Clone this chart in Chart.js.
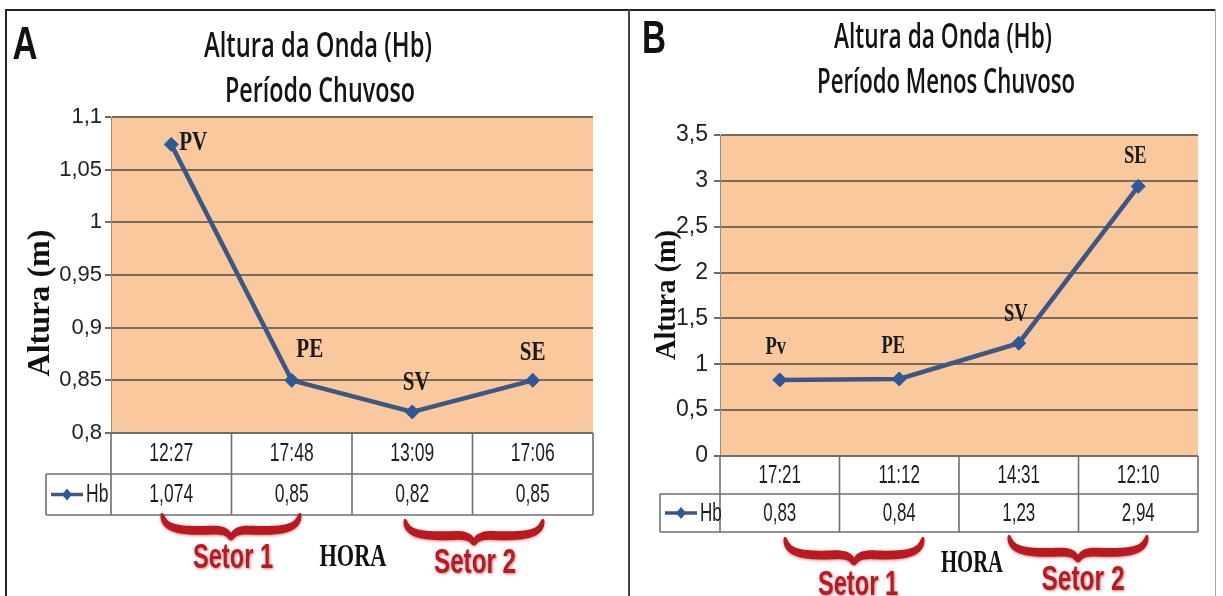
<!DOCTYPE html>
<html>
<head>
<meta charset="utf-8">
<script src="https://cdn.jsdelivr.net/npm/chart.js@4.4.1/dist/chart.umd.min.js"></script>
<style>
body{margin:0;background:#fff;width:1223px;height:596px;overflow:hidden;position:relative;}
canvas{position:absolute;top:0;}
#cA{left:0}
#cB{left:629px}
.ln{position:absolute;background:#222;}
</style>
</head>
<body>
<canvas id="cA" width="629" height="596"></canvas>
<canvas id="cB" width="594" height="596"></canvas>
<div class="ln" style="left:5px;top:9px;width:1211px;height:2px"></div>
<div class="ln" style="left:5px;top:9px;width:2px;height:590px"></div>
<div class="ln" style="left:628px;top:9px;width:2px;height:590px;background:#444"></div>
<div class="ln" style="left:1215px;top:9px;width:1px;height:590px;background:#aaa"></div>
<script>
'use strict';

// painel A - periodo chuvoso
const horasA = ['12:27', '17:48', '13:09', '17:06'];
const hbA = [1.074, 0.85, 0.82, 0.85];
const pontosA = ['PV', 'PE', 'SV', 'SE'];
const ticksA = [0.8, 0.85, 0.9, 0.95, 1, 1.05, 1.1];

// painel B - periodo menos chuvoso
const horasB = ['17:21', '11:12', '14:31', '12:10'];
const hbB = [0.83, 0.84, 1.23, 2.94];
const pontosB = ['Pv', 'PE', 'SV', 'SE'];
const ticksB = [0, 0.5, 1, 1.5, 2, 2.5, 3, 3.5];

const LINE = '#3d5784';
const MARK = '#2c5a98';
const RED = '#bb1820';

const fmt = v => String(v).replace('.', ',');

function txt(ctx, s, x, y, font, color, sx, align) {
    ctx.save();
    ctx.font = font;
    ctx.fillStyle = color;
    ctx.textBaseline = 'middle';
    ctx.textAlign = align || 'center';
    ctx.translate(x, y);
    ctx.scale(sx, 1);
    ctx.fillText(s, 0, 0);
    ctx.restore();
}

function fitTxt(ctx, s, x, y, font, color, w) {
    ctx.save();
    ctx.font = font;
    const sx = w / ctx.measureText(s).width;
    ctx.restore();
    txt(ctx, s, x, y, font, color, sx);
}

function cubic(p, t) {
    const u = 1 - t;
    return [
        u*u*u*p[0][0] + 3*u*u*t*p[1][0] + 3*u*t*t*p[2][0] + t*t*t*p[3][0],
        u*u*u*p[0][1] + 3*u*u*t*p[1][1] + 3*u*t*t*p[2][1] + t*t*t*p[3][1]
    ];
}

// meia chave: da ponta externa ate o bico central, espessura variavel
function halfBrace(ctx, x1, xm, y0, y1, thick) {
    const w = xm - x1, h = y1 - y0;
    const segs = [
        [[x1, y0], [x1 + w*0.02, y0 + h*0.5], [x1 + w*0.15, y0 + h*0.68], [xm - w*0.32, y0 + h*0.64]],
        [[xm - w*0.32, y0 + h*0.64], [xm - w*0.1, y0 + h*0.6], [xm - w*0.03, y0 + h*0.72], [xm, y1]]
    ];
    const pts = [];
    segs.forEach((s, k) => {
        for (let i = (k ? 1 : 0); i <= 24; i++) pts.push(cubic(s, i / 24));
    });
    const n = pts.length - 1;
    const up = [], dn = [];
    pts.forEach((p, i) => {
        const a = pts[Math.max(i - 1, 0)], b = pts[Math.min(i + 1, n)];
        const dx = b[0] - a[0], dy = b[1] - a[1];
        const L = Math.hypot(dx, dy) || 1;
        const nx = -dy / L, ny = dx / L;
        const th = thick * Math.pow(Math.sin(Math.PI * i / n), 0.5) / 2 + 0.7;
        up.push([p[0] + nx*th, p[1] + ny*th]);
        dn.push([p[0] - nx*th, p[1] - ny*th]);
    });
    ctx.beginPath();
    up.forEach((p, i) => i ? ctx.lineTo(p[0], p[1]) : ctx.moveTo(p[0], p[1]));
    dn.reverse().forEach(p => ctx.lineTo(p[0], p[1]));
    ctx.closePath();
    ctx.fill();
}

function brace(ctx, x1, x2, y0, y1) {
    const xm = (x1 + x2) / 2;
    ctx.save();
    ctx.fillStyle = RED;
    ctx.shadowColor = 'rgba(140,0,0,0.45)';
    ctx.shadowBlur = 3;
    ctx.shadowOffsetY = 1;
    halfBrace(ctx, x1, xm, y0, y1, 7.5);
    halfBrace(ctx, x2, xm, y0, y1, 7.5);
    ctx.restore();
}

function panelPlugin(cfg) {
    return {
        id: 'panel',
        beforeDraw(chart) {
            const a = chart.chartArea, ctx = chart.ctx;
            ctx.save();
            ctx.fillStyle = '#f9c89d';
            ctx.fillRect(a.left, a.top, a.right - a.left, a.bottom - a.top);
            ctx.restore();
        },
        afterDatasetsDraw(chart) {
            const ctx = chart.ctx;
            const meta = chart.getDatasetMeta(0);
            meta.data.forEach((pt, i) => {
                const o = cfg.labelOff[i];
                txt(ctx, cfg.pontos[i], pt.x + o[0], pt.y + o[1],
                    'bold ' + cfg.labelSize + 'px "Liberation Serif", serif', '#1a1a1a', cfg.labelSx, o[2]);
            });
        },
        afterDraw(chart) {
            const ctx = chart.ctx, a = chart.chartArea, xs = chart.scales.x;
            const n = cfg.horas.length;
            const step = (a.right - a.left) / n;
            const tFont = '25px "Liberation Sans", sans-serif';

            // tabela de dados
            ctx.save();
            ctx.fillStyle = '#fff';
            ctx.fillRect(a.left, a.bottom + 1, a.right - a.left, cfg.row2 - a.bottom - 1);
            ctx.fillRect(cfg.legX, cfg.row1, a.left - cfg.legX, cfg.row2 - cfg.row1);
            ctx.strokeStyle = '#707070';
            ctx.lineWidth = 1.6;
            ctx.beginPath();
            ctx.moveTo(a.left, a.bottom); ctx.lineTo(a.right, a.bottom);
            ctx.moveTo(cfg.legX, cfg.row1); ctx.lineTo(a.right, cfg.row1);
            ctx.moveTo(cfg.legX, cfg.row2); ctx.lineTo(a.right, cfg.row2);
            ctx.moveTo(cfg.legX, cfg.row1); ctx.lineTo(cfg.legX, cfg.row2);
            for (let i = 0; i <= n; i++) {
                const x = i < n ? xs.getPixelForValue(i) - step / 2 : xs.getPixelForValue(n - 1) + step / 2;
                ctx.moveTo(x, a.bottom); ctx.lineTo(x, cfg.row2);
            }
            ctx.stroke();
            ctx.restore();

            const y1 = (a.bottom + cfg.row1) / 2, y2 = (cfg.row1 + cfg.row2) / 2;
            cfg.horas.forEach((h, i) => {
                const x = xs.getPixelForValue(i);
                txt(ctx, h, x, y1 + 1, tFont, '#1e1e1e', cfg.tableSx);
                txt(ctx, fmt(cfg.valores[i]), x, y2 + 1, tFont, '#1e1e1e', cfg.tableSx);
            });

            // legenda dentro da tabela
            const lx0 = cfg.legX + 5, lx1 = cfg.legX + 37, lm = (lx0 + lx1) / 2;
            ctx.save();
            ctx.strokeStyle = LINE;
            ctx.lineWidth = 3.5;
            ctx.beginPath(); ctx.moveTo(lx0, y2); ctx.lineTo(lx1, y2); ctx.stroke();
            ctx.fillStyle = MARK;
            ctx.beginPath();
            ctx.moveTo(lm, y2 - 6); ctx.lineTo(lm + 5, y2); ctx.lineTo(lm, y2 + 6); ctx.lineTo(lm - 5, y2);
            ctx.closePath(); ctx.fill();
            ctx.restore();
            txt(ctx, 'Hb', lx1 + 3, y2 + 1, tFont, '#1e1e1e', cfg.tableSx, 'left');

            // titulos
            cfg.titles.forEach(t => fitTxt(ctx, t[0], t[1], t[2], '600 34px "Open Sans", "Liberation Sans", sans-serif', '#141414', t[3]));
            fitTxt(ctx, cfg.letter[0], cfg.letter[1], cfg.letter[2], 'bold 46px "Liberation Sans", sans-serif', '#111', cfg.letter[3]);

            // titulo do eixo y
            const yt = cfg.yTitle;
            ctx.save();
            ctx.font = 'bold ' + yt[3] + 'px "Liberation Serif", serif';
            const sw = ctx.measureText('Altura (m)').width;
            ctx.translate(yt[0], yt[1]);
            ctx.rotate(-Math.PI / 2);
            ctx.scale(yt[2] / sw, 1);
            ctx.fillStyle = '#111';
            ctx.textAlign = 'center';
            ctx.textBaseline = 'middle';
            ctx.fillText('Altura (m)', 0, 0);
            ctx.restore();

            // chaves dos setores
            cfg.braces.forEach(b => brace(ctx, b[0], b[1], b[2], b[3]));
            cfg.notes.forEach(t => {
                if (t[4]) {
                    fitTxt(ctx, t[0], t[1], t[2], 'bold 31px "Liberation Serif", serif', '#111', t[3]);
                } else {
                    ctx.save();
                    ctx.shadowColor = 'rgba(140,0,0,0.5)';
                    ctx.shadowBlur = 3;
                    ctx.shadowOffsetX = 1;
                    ctx.shadowOffsetY = 1;
                    fitTxt(ctx, t[0], t[1], t[2], 'bold 35px "Liberation Sans Narrow", "Liberation Sans", sans-serif', RED, t[3]);
                    ctx.restore();
                }
            });
        }
    };
}

function makeChart(id, cfg) {
    const c = document.getElementById(id);
    return new Chart(c, {
        type: 'line',
        data: {
            labels: cfg.horas,
            datasets: [{
                label: 'Hb',
                data: cfg.valores,
                borderColor: LINE,
                borderWidth: 4.5,
                pointStyle: 'rectRot',
                pointRadius: 7,
                pointBackgroundColor: MARK,
                pointBorderColor: MARK,
                pointBorderWidth: 1,
                tension: 0
            }]
        },
        options: {
            responsive: false,
            animation: false,
            events: [],
            layout: {
                padding: { left: 0, top: cfg.area[2], right: c.width - cfg.area[1], bottom: c.height - cfg.area[3] }
            },
            plugins: { legend: { display: false }, tooltip: { enabled: false } },
            scales: {
                x: { type: 'category', display: false, offset: true },
                y: {
                    min: cfg.ticks[0],
                    max: cfg.ticks[cfg.ticks.length - 1],
                    afterBuildTicks: s => { s.ticks = cfg.ticks.map(v => ({ value: v })); },
                    afterFit: s => { s.width = cfg.area[0]; },
                    grid: { color: '#7c6a58', lineWidth: 2, tickLength: 6 },
                    border: { display: true, color: '#9a8c80', width: 1 },
                    ticks: {
                        font: { family: cfg.tickFamily, size: cfg.tickSize },
                        color: '#222',
                        padding: cfg.tickPad,
                        callback: v => fmt(v)
                    }
                }
            }
        },
        plugins: [panelPlugin(cfg)]
    });
}

makeChart('cA', {
    horas: horasA, valores: hbA, pontos: pontosA, ticks: ticksA,
    area: [111, 593, 117, 433],
    tickFamily: '"Liberation Sans", sans-serif', tickSize: 22, tickPad: 3,
    row1: 474, row2: 515, legX: 46, tableSx: 0.7,
    labelSize: 27, labelSx: 0.78,
    labelOff: [[8, -1, 'left'], [18, -30], [4, -29], [0, -27]],
    titles: [['Altura da Onda (Hb)', 318, 47, 228], ['Período Chuvoso', 320, 92, 190]],
    letter: ['A', 25, 46, 25],
    yTitle: [41, 303, 147, 32],
    braces: [[162, 300, 513, 540], [405, 543, 519, 545]],
    notes: [['Setor 1', 233, 558, 80], ['HORA', 353, 558, 67, true], ['Setor 2', 475, 563, 82]]
});

makeChart('cB', {
    horas: horasB, valores: hbB, pontos: pontosB, ticks: ticksB,
    area: [91, 569, 135, 456],
    tickFamily: '"Liberation Sans Narrow", "Liberation Sans", sans-serif', tickSize: 23, tickPad: 6,
    row1: 494, row2: 532, legX: 31, tableSx: 0.68,
    labelSize: 25, labelSx: 0.74,
    labelOff: [[-4, -32], [-6, -32], [-3, -29], [-3, -30]],
    titles: [['Altura da Onda (Hb)', 314, 38, 218], ['Período Menos Chuvoso', 317, 83, 258]],
    letter: ['B', 25, 40, 24],
    yTitle: [39, 295, 130, 29],
    braces: [[156, 294, 537, 565], [380, 518, 535, 562]],
    notes: [['Setor 1', 229, 585, 80], ['HORA', 343, 564, 62, true], ['Setor 2', 454, 580, 83]]
});
</script>
</body>
</html>
